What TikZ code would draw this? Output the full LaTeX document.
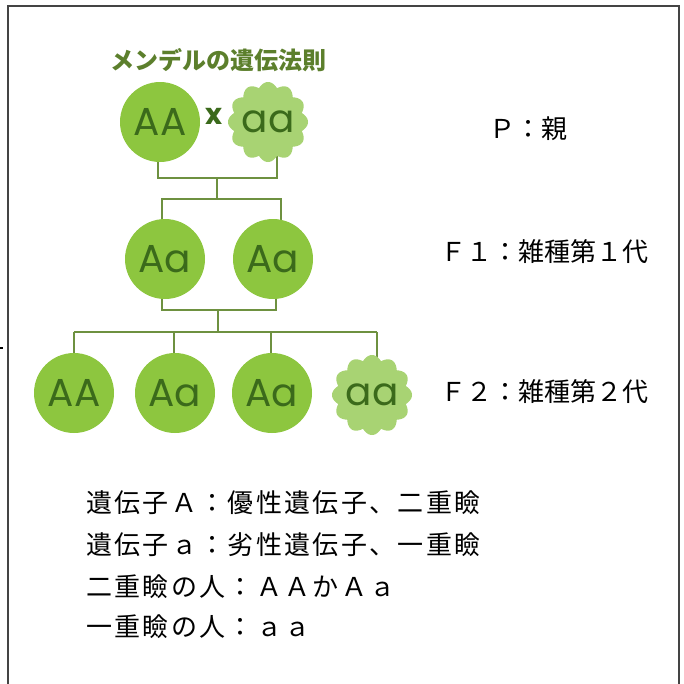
\documentclass[tikz,border=0pt]{standalone}
\usepackage{fontspec}
\newfontfamily\jp{Noto Sans CJK JP}
\newfontfamily\jpls[LetterSpace=9]{Noto Sans CJK JP}
\newfontfamily\geo{Poppins}
\usetikzlibrary{backgrounds}
\definecolor{circgreen}{HTML}{8DC63F}
\definecolor{cloudgreen}{HTML}{A8D373}
\definecolor{txtgreen}{HTML}{3B6A1B}
\definecolor{linegreen}{HTML}{6E9140}
\definecolor{titlegreen}{HTML}{5C7F2C}
\definecolor{framegray}{HTML}{444444}
\newcommand\scallopfill[1]{\fill[cloudgreen,shift={(#1)}] plot[domain=0:360,samples=241] ({(35+5*abs(cos(6*\x)))*cos(\x)},{(35+5*abs(cos(6*\x)))*sin(\x)}) -- cycle;}
\tikzset{
  geno/.style={circle,minimum size=80pt,inner sep=0pt,fill=circgreen,text=txtgreen,font=\geo\fontsize{39}{42}\selectfont},
  genocloud/.style={circle,minimum size=80pt,inner sep=0pt,text=txtgreen,font=\geo\fontsize{39}{42}\selectfont},
  conn/.style={draw=linegreen,line width=2pt},
  label/.style={anchor=west,inner sep=0pt,font=\jp\fontsize{26}{30}\selectfont},
  note/.style={anchor=west,inner sep=0pt,font=\jpls\fontsize{26}{30}\selectfont},
}
\begin{document}
\begin{tikzpicture}[x=1pt,y=-1pt]
\useasboundingbox (0,0) rectangle (684,683);
\draw[framegray,line width=2pt] (8,684) -- (8,6) -- (679,6) -- (679,684);
\draw[black,line width=1.5pt] (0,348) -- (3,348);

\node[text=titlegreen,font=\jp\bfseries\fontsize{24}{27}\selectfont,inner sep=0pt] (title) at (218,60) {メンデルの遺伝法則};

% P generation
\node[geno] (p1a) at (160,122) {AA};
\scallopfill{268,122}
\node[genocloud] (p1b) at (268,122) {aa};
\node[text=txtgreen,font=\geo\bfseries\fontsize{29}{30}\selectfont,inner sep=0pt] (cross) at (214,116) {x};

% F1
\node[geno] (f1a) at (165,259) {Aa};
\node[geno] (f1b) at (273,259) {Aa};

% F2
\node[geno] (f2a) at (74,393) {AA};
\node[geno] (f2b) at (175,393) {Aa};
\node[geno] (f2c) at (272,393) {Aa};
\scallopfill{372,395}
\node[genocloud] (f2d) at (372,395) {aa};

% junctions
\coordinate (j1l) at (158,178);
\coordinate (j1r) at (277,178);
\coordinate (j1m) at (217,178);
\coordinate (j2m) at (217,199);
\coordinate (j2l) at (162,199);
\coordinate (j2r) at (281,199);
\coordinate (j3l) at (162,310);
\coordinate (j3r) at (276,310);
\coordinate (j3m) at (218,310);
\coordinate (j4m) at (218,332);
\coordinate (j4a) at (74,332);
\coordinate (j4b) at (174,332);
\coordinate (j4c) at (271,332);
\coordinate (j4d) at (377,332);

\begin{scope}[on background layer]
\draw[conn] (p1a -| j1l) -- (j1l) -- (j1r) -- (p1b -| j1r);
\draw[conn] (j1m) -- (j2m);
\draw[conn] (f1a -| j2l) -- (j2l) -- (j2r) -- (f1b -| j2r);
\draw[conn] (f1a -| j3l) -- (j3l) -- (j3r) -- (f1b -| j3r);
\draw[conn] (j3m) -- (j4m);
\draw[conn] (j4a) -- (j4d);
\draw[conn] (j4a) -- (f2a -| j4a);
\draw[conn] (j4b) -- (f2b -| j4b);
\draw[conn] (j4c) -- (f2c -| j4c);
\draw[conn] (j4d) -- (f2d -| j4d);
\end{scope}

% right labels
\node[label] (lp) at (489,129) {Ｐ：親};
\node[label] (lf1) at (440,252) {Ｆ１：雑種第１代};
\node[label] (lf2) at (440,392) {Ｆ２：雑種第２代};

% notes
\node[note] (n1) at (86,503) {遺伝子Ａ：優性遺伝子、二重瞼};
\node[note] (n2) at (86,545) {遺伝子ａ：劣性遺伝子、一重瞼};
\node[note] (n3) at (86,587) {二重瞼の人：ＡＡかＡａ};
\node[note] (n4) at (86,627) {一重瞼の人：ａａ};
\end{tikzpicture}
\end{document}
